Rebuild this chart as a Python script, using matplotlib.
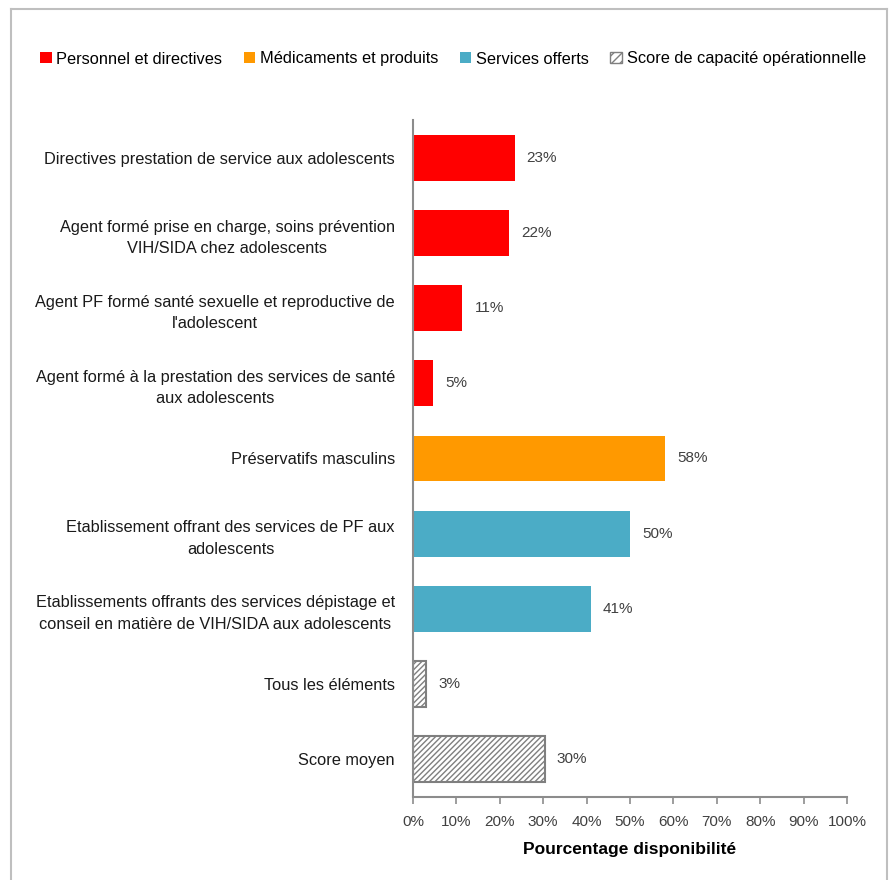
import matplotlib
matplotlib.use("Agg")
import matplotlib.pyplot as plt
from matplotlib.patches import Patch
from matplotlib.lines import Line2D
import numpy as np

plt.rcParams['font.family'] = ['Liberation Sans', 'DejaVu Sans']
plt.rcParams['hatch.linewidth'] = 1.0

categories = [
    "Directives prestation de service aux adolescents",
    "Agent formé prise en charge, soins prévention\nVIH/SIDA chez adolescents",
    "Agent PF formé santé sexuelle et reproductive de\nl'adolescent",
    "Agent formé à la prestation des services de santé\naux adolescents",
    "Préservatifs masculins",
    "Etablissement offrant des services de PF aux\nadolescents",
    "Etablissements offrants des services dépistage et\nconseil en matière de VIH/SIDA aux adolescents",
    "Tous les éléments",
    "Score moyen",
]
values = [23.4, 22.1, 11.4, 4.7, 58.1, 50.1, 41.0, 3.1, 30.3]
groups = [0, 0, 0, 0, 1, 2, 2, 3, 3]
group_names = ["Personnel et directives", "Médicaments et produits",
               "Services offerts", "Score de capacité opérationnelle"]
group_colors = ["#FF0000", "#FF9900", "#4BACC6", "white"]
xticks = [0, 10, 20, 30, 40, 50, 60, 70, 80, 90, 100]

W, H = 891, 880
fig = plt.figure(figsize=(W / 100, H / 100), dpi=100)
ax = fig.add_axes([413 / W, 1 - 796.5 / H, (847 - 413) / W, (796.5 - 120.5) / H])

ypos = np.arange(len(categories))
hatch_edge = "#7F7F7F"
for y, v, g in zip(ypos, values, groups):
    if g == 3:
        ax.barh(y, v, height=0.61, color="white", edgecolor=hatch_edge,
                hatch="//////", linewidth=1.5)
    else:
        ax.barh(y, v, height=0.61, color=group_colors[g], edgecolor="none")
    ax.annotate(f"{v:.0f}%", xy=(v, y), xytext=(12, 0), textcoords="offset pixels",
                va="center", ha="left", fontsize=11, color="#404040")

ax.set_xlim(0, 100)
ax.set_ylim(len(categories) - 0.5, -0.5)
ax.set_yticks(ypos)
ax.set_yticklabels(categories, fontsize=11.8, color="#1a1a1a", multialignment="center",
                   linespacing=1.55)
ax.tick_params(axis="y", length=0, pad=13)
ax.set_xticks(xticks)
ax.set_xticklabels([f"{t}%" for t in xticks], fontsize=11, color="#404040")
ax.tick_params(axis="x", direction="out", length=5, width=1.2, color="#8c8c8c", pad=8)
for s in ["top", "right"]:
    ax.spines[s].set_visible(False)
for s in ["left", "bottom"]:
    ax.spines[s].set_color("#8c8c8c")
    ax.spines[s].set_linewidth(1.5)
ax.set_xlabel("Pourcentage disponibilité", fontsize=12.5, fontweight="bold", labelpad=10)

handles = []
for i, name in enumerate(group_names):
    if i == 3:
        handles.append(Patch(facecolor="white", edgecolor=hatch_edge, hatch="////",
                             linewidth=1.0, label=name))
    else:
        handles.append(Patch(facecolor=group_colors[i], edgecolor="none", label=name))
fig.legend(handles=handles, loc="center", bbox_to_anchor=(453 / W, 1 - 59 / H), ncol=4,
           frameon=False, fontsize=11.8, handlelength=0.7, handleheight=0.7,
           handletextpad=0.3, columnspacing=1.3)

# outer frame
fc = "#BFBFBF"
fig.add_artist(Line2D([11 / W, 11 / W], [0, 1 - 9 / H], transform=fig.transFigure, color=fc, lw=1.5))
fig.add_artist(Line2D([11 / W, 887 / W], [1 - 9 / H, 1 - 9 / H], transform=fig.transFigure, color=fc, lw=1.5))
fig.add_artist(Line2D([887 / W, 887 / W], [0, 1 - 9 / H], transform=fig.transFigure, color=fc, lw=1.5))

fig.savefig("out.png", dpi=100, facecolor="white")
